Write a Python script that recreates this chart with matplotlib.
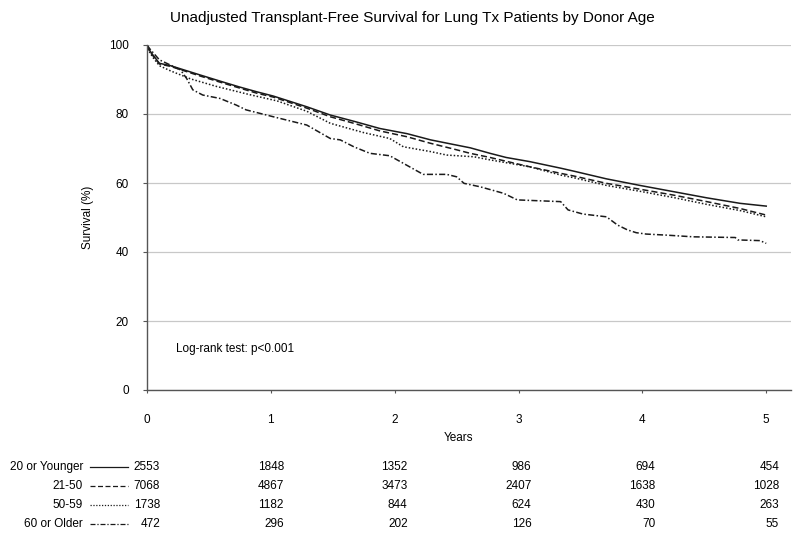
import numpy as np
import matplotlib
matplotlib.use("Agg")
from matplotlib import pyplot as plt

plt.rcParams["font.family"] = ["Liberation Sans", "DejaVu Sans"]

# survival curves (years, percent surviving)
t_young = [0, 0.02, 0.05, 0.1, 0.19, 0.43, 0.62, 0.75, 0.89, 1.02, 1.29, 1.48,
           1.68, 1.88, 2.1, 2.29, 2.47, 2.61, 2.77, 2.9, 3.09, 3.34, 3.45, 3.71,
           3.98, 4.25, 4.52, 4.79, 5.0]
s_young = [100, 98.5, 97, 94.7, 94.0, 91.3, 89.2, 87.8, 86.4, 85.2, 82.1, 79.7,
           77.8, 75.8, 74.3, 72.5, 71.2, 70.2, 68.6, 67.4, 66.2, 64.3, 63.4, 61.2,
           59.3, 57.5, 55.7, 54.1, 53.3]

t_mid = [0, 0.02, 0.05, 0.1, 0.19, 0.43, 0.62, 0.75, 0.89, 1.02, 1.29, 1.48,
         1.68, 1.88, 2.1, 2.29, 2.47, 2.61, 2.77, 2.9, 3.09, 3.34, 3.45, 3.71,
         3.98, 4.25, 4.52, 4.79, 5.0]
s_mid = [100, 98.2, 96.8, 94.5, 93.8, 91.0, 88.9, 87.5, 86.0, 84.9, 81.7, 79.2,
         77.2, 75.1, 73.4, 71.5, 69.9, 68.6, 67.4, 66.3, 64.7, 62.8, 62.0, 59.9,
         58.2, 56.5, 54.6, 52.6, 50.7]

t_fifty = [0, 0.02, 0.05, 0.1, 0.19, 0.35, 0.56, 0.83, 1.05, 1.29, 1.48, 1.75,
           1.96, 2.07, 2.29, 2.42, 2.64, 2.77, 3.09, 3.34, 3.45, 3.71, 3.98,
           4.25, 4.52, 4.79, 5.0]
s_fifty = [100, 98, 96.3, 94.0, 92.5, 90.2, 88.0, 85.6, 83.8, 80.8, 77.3, 74.6,
           72.9, 70.5, 69.1, 68.1, 67.6, 66.7, 64.7, 62.3, 61.5, 59.3, 57.6,
           55.8, 53.8, 52.0, 50.2]

t_old = [0, 0.02, 0.1, 0.27, 0.32, 0.37, 0.45, 0.59, 0.72, 0.80, 1.02, 1.29,
         1.48, 1.56, 1.67, 1.80, 1.96, 2.02, 2.12, 2.23, 2.42, 2.50, 2.56, 2.69,
         2.88, 2.99, 3.34, 3.40, 3.52, 3.71, 3.80, 3.88, 3.95, 4.03, 4.19, 4.41,
         4.75, 4.77, 4.95, 5.0]
s_old = [100, 99, 95.7, 92.8, 90.3, 87.0, 85.5, 84.5, 82.6, 81.2, 79.2, 76.8,
         72.9, 72.5, 70.5, 68.6, 67.9, 66.7, 64.7, 62.5, 62.5, 61.8, 59.9, 58.9,
         57.0, 55.1, 54.6, 52.2, 51.0, 50.2, 47.8, 46.4, 45.6, 45.2, 44.9, 44.4,
         44.2, 43.5, 43.3, 42.5]

groups = ["20 or Younger", "21-50", "50-59", "60 or Older"]
at_risk = [
    [2553, 1848, 1352, 986, 694, 454],
    [7068, 4867, 3473, 2407, 1638, 1028],
    [1738, 1182, 844, 624, 430, 263],
    [472, 296, 202, 126, 70, 55],
]
years = [0, 1, 2, 3, 4, 5]

curves = [(t_young, s_young), (t_mid, s_mid), (t_fifty, s_fifty), (t_old, s_old)]
dash_styles = ["-", (0, (4, 2)), (0, (1, 1.3)), (0, (4, 1.5, 1, 1.5))]
ink = "#1a1a1a"
fs = 8.5

fig = plt.figure(figsize=(8, 5.36), dpi=100)
ax = fig.add_axes([147 / 800, 146 / 536, 644 / 800, 345 / 536])

for (t, s), ls in zip(curves, dash_styles):
    ax.plot(t, s, color=ink, lw=1.1, linestyle=ls)

ax.set_xlim(0, 5.2)
ax.set_ylim(0, 100)
ax.set_yticks([0, 20, 40, 60, 80, 100])
ax.set_xticks(years)
ax.grid(axis="y", color="#c8c8c8", lw=0.9)
ax.set_axisbelow(True)
for side in ["top", "right"]:
    ax.spines[side].set_visible(False)
for side in ["left", "bottom"]:
    ax.spines[side].set_color("#555555")
    ax.spines[side].set_linewidth(1.0)
ax.tick_params(axis="y", length=3, pad=10, color="#555555", labelsize=fs)
ax.tick_params(axis="x", length=2.5, pad=15, color="#555555", labelsize=fs)
ax.set_ylabel("Survival (%)", fontsize=fs, labelpad=11)

ax.text(0.234, 11.9, "Log-rank test: p<0.001", fontsize=fs, va="center")

fig.text(412 / 800, 1 - 18 / 536,
         "Unadjusted Transplant-Free Survival for Lung Tx Patients by Donor Age",
         ha="center", va="center", fontsize=11)
fig.text(458 / 800, 1 - 438 / 536, "Years", ha="center", va="center", fontsize=fs)

# number-at-risk table under the axis
row_y = [467, 486, 505, 524]
for i, name in enumerate(groups):
    yf = 1 - row_y[i] / 536
    fig.text(83 / 800, yf, name, ha="right", va="center", fontsize=fs)
    fig.add_artist(plt.Line2D([90 / 800, 128 / 800], [yf, yf], color=ink,
                              lw=0.9, linestyle=dash_styles[i]))
    for yr, n in zip(years, at_risk[i]):
        ax.annotate(str(n), xy=(yr, yf), xycoords=("data", "figure fraction"),
                    xytext=(13 * 0.72, 0), textcoords="offset points",
                    annotation_clip=False, ha="right", va="center",
                    fontsize=fs)

fig.savefig("out.png", dpi=100)
